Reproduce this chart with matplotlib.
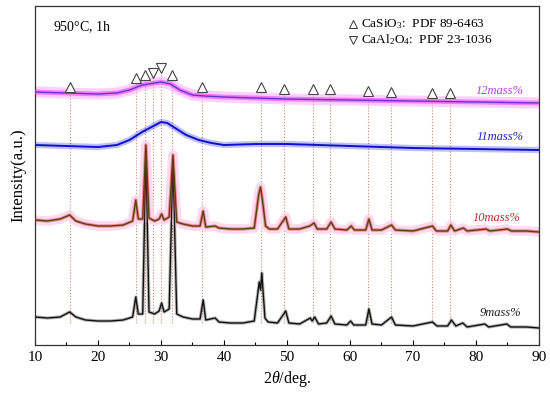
import matplotlib.pyplot as plt
import numpy as np

plt.rcParams['font.family'] = ['Liberation Serif', 'DejaVu Sans']
plt.rcParams['mathtext.fontset'] = 'custom'
plt.rcParams['mathtext.rm'] = 'Liberation Serif'
plt.rcParams['mathtext.it'] = 'Liberation Serif:italic'

# 9mass% trace (2theta, intensity a.u.)
x9 = [10, 12, 14, 15.5, 16.5, 18, 20, 22, 24, 25.5, 26.0, 26.4, 27.1, 27.6, 28.1,
      29.0, 29.7, 30.1, 30.5, 31.3, 31.9, 32.5, 33.5, 35, 36.2, 36.7, 37.1, 38.6,
      39.2, 41, 43, 44.8, 45.6, 45.8, 46.0, 46.5, 47, 48.5, 49.8, 50.3, 52, 53.7,
      54.0, 54.4, 55, 56.3, 57.0, 57.6, 59.5, 60.1, 60.6, 62.5, 63.0, 63.5, 65,
      66.6, 67.2, 70, 73.1, 73.8, 75.5, 76.1, 76.8, 77.9, 78.6, 81.4, 82, 84.9,
      85.5, 88, 90]
y9 = [28, 27, 28, 33, 28, 25, 24, 24, 25, 28, 48, 31, 31, 195, 33,
      31, 34, 42, 33, 36, 185, 31, 28, 26, 26, 45, 25, 27,
      23, 22, 22, 24, 63, 55, 72, 27, 23, 22, 34, 22, 21, 27,
      24, 28, 21, 22, 29, 21, 20, 24, 20, 20, 36, 21, 20,
      28, 20, 19, 23, 19, 19, 25, 19, 22, 18, 21, 18, 21,
      18, 18, 17]

# 10mass% trace
x10 = [10, 12, 14, 15.5, 16.5, 18, 20, 22, 24, 25.5, 26.0, 26.4, 27.1, 27.6, 28.1,
       29.0, 29.7, 30.1, 30.5, 31.3, 31.9, 32.5, 33.5, 35, 36.2, 36.7, 37.1, 38.6,
       39.2, 41, 43, 44.8, 45.5, 45.8, 46.1, 46.6, 47.2, 48.5, 49.8, 50.3, 52, 53.6,
       54.3, 54.8, 56.3, 57.0, 57.6, 59.5, 60.2, 60.7, 62.5, 63.0, 63.5, 65,
       66.6, 67.2, 70, 73.1, 73.7, 75.5, 76.0, 76.6, 78.0, 78.6, 81.6, 82.2, 85,
       85.6, 88, 90]
y10 = [125, 124, 126, 130, 124, 121, 119, 119, 120, 124, 145, 126, 126, 200, 127,
       124, 126, 131, 125, 128, 190, 123, 121, 119, 119, 134, 118, 119,
       117, 116, 116, 117, 150, 158, 145, 119, 116, 116, 128, 116, 116, 119,
       122, 116, 116, 123, 116, 115, 119, 115, 115, 126, 115, 115,
       120, 115, 114, 119, 114, 114, 120, 114, 117, 114, 116, 114, 116,
       114, 114, 113]

# 11mass% trace
x11 = [10, 15, 20, 23, 25, 27, 28.5, 30, 31, 32, 34, 36, 38, 40, 45, 50, 60, 70, 80, 90]
y11 = [200, 199, 198, 200, 205, 213, 218, 223, 222, 218, 210, 205, 202, 200, 201,
       201, 199, 197, 196, 195]

# 12mass% trace
x12 = [10, 15, 20, 23, 25, 27, 29, 30, 31.5, 33, 35, 37, 40, 50, 60, 70, 80, 90]
y12 = [253, 252, 251, 252, 255, 260, 262, 263, 261, 255, 250, 249, 248, 246, 245,
       244, 243, 242]

# reference peak positions and marker heights
casio3_pos = [15.5, 26.0, 27.4, 31.8, 36.5, 45.8, 49.6, 54.1, 56.9, 62.9, 66.5, 73.0, 75.9]
casio3_h = [258, 267, 270, 270, 258, 258, 256, 256, 256, 254, 253, 252, 252]
caal2o4_pos = [28.8, 30.0]
caal2o4_h = [272, 277]

fig = plt.figure(figsize=(5.5, 3.96), dpi=100)
ax = fig.add_axes([0.0636, 0.1288, 0.9164, 0.856])

# dotted guide lines
for p, h in zip(casio3_pos + caal2o4_pos, casio3_h + caal2o4_h):
    ax.plot([p, p], [22, h - 5], linestyle=":", color="#cc8878", lw=0.8, zorder=1)

# traces
ax.plot(x9, y9, color="#111111", lw=2.4, alpha=0.3, zorder=2)
ax.plot(x9, y9, color="#111111", lw=1.0, zorder=3)
ax.plot(x10, y10, color="#ffd0ec", lw=7, alpha=0.8, zorder=2)
ax.plot(x10, y10, color="#d03020", lw=2.4, alpha=0.45, zorder=3)
ax.plot(x10, y10, color="#5a4010", lw=1.0, zorder=4)
ax.plot(x11, y11, color="#3030e8", lw=4.5, alpha=0.3, zorder=2)
ax.plot(x11, y11, color="#1010d0", lw=1.4, zorder=3)
ax.plot(x12, y12, color="#ffb0ff", lw=8, alpha=0.6, zorder=2)
ax.plot(x12, y12, color="#e040f0", lw=3.5, alpha=0.55, zorder=3)
ax.plot(x12, y12, color="#7030d0", lw=1.0, zorder=4)

# phase markers
ax.plot(casio3_pos, casio3_h, linestyle="none", marker="^", ms=7, mfc="white",
        mec="#444444", mew=0.8, zorder=5)
ax.plot(caal2o4_pos, caal2o4_h, linestyle="none", marker="v", ms=7, mfc="white",
        mec="#444444", mew=0.8, zorder=5)

# labels
ax.text(83.8, 254, "12mass%", color="#b040e0", style="italic", fontsize=9, ha="center", va="center")
ax.text(83.8, 208, "11mass%", color="#2020c0", style="italic", fontsize=9, ha="center", va="center")
ax.text(83.3, 127, "10mass%", color="#b03030", style="italic", fontsize=9, ha="center", va="center")
ax.text(83.8, 32, "9mass%", color="#222222", style="italic", fontsize=9, ha="center", va="center")
ax.text(12.8, 318, r"$\mathit{950}$°C, 1h", fontsize=10, ha="left", va="center")

# phase legend
ax.plot([60.5], [321], linestyle="none", marker="^", ms=6, mfc="white", mec="#333333", mew=0.7)
ax.plot([60.5], [305], linestyle="none", marker="v", ms=6, mfc="white", mec="#333333", mew=0.7)
ax.text(61.7, 321, "CaSiO$_3$:  PDF 89-6463", fontsize=9.5, ha="left", va="center")
ax.text(61.7, 305, "CaAl$_2$O$_4$:  PDF 23-1036", fontsize=9.5, ha="left", va="center")

ax.set_xlim(10, 90)
ax.set_ylim(0, 339)
ax.set_xticks(np.arange(10, 91, 10))
ax.set_xticks(np.arange(15, 90, 10), minor=True)
ax.set_yticks([])
ax.tick_params(axis="x", direction="in", length=3.5, width=0.8, labelsize=11, pad=4)
ax.tick_params(axis="x", which="minor", direction="in", length=2, width=0.8)
for s in ax.spines.values():
    s.set_color("#333333")
    s.set_linewidth(0.9)
ax.set_xlabel(r"2$\mathit{θ}$/deg.", fontsize=11.5, labelpad=4)
ax.set_ylabel("Intensity(a.u.)", fontsize=12, labelpad=6)

fig.savefig("out.png", dpi=100)
